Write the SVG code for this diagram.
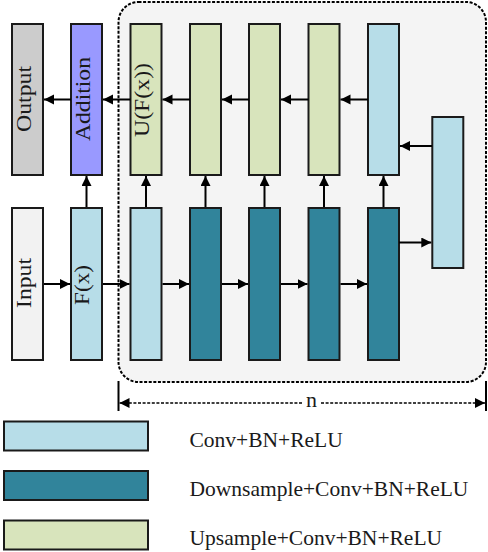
<svg xmlns="http://www.w3.org/2000/svg" width="488" height="552" viewBox="0 0 488 552">
<defs>
<style>
.box{stroke:#1a1a1a;stroke-width:2}
.lb{fill:#b7dde8}.dk{fill:#31849b}.gr{fill:#d8e4bc}
.lbl{font-size:22px;fill:#1a1a1a}
.leg{font-size:21.5px;fill:#1a1a1a}
.c{stroke:#000;stroke-width:2;fill:none}
.d{stroke:#000;stroke-width:1.6;fill:none;stroke-dasharray:3 1.6}
</style>
<marker id="ah" markerUnits="userSpaceOnUse" markerWidth="11" markerHeight="11" refX="10" refY="5" orient="auto">
<path d="M0,0 L10,5 L0,10 z" fill="#000"/>
</marker>
</defs>
<rect width="488" height="552" fill="#fff"/>
<g id="module">
<rect x="118.5" y="2" width="367.5" height="380" rx="20" ry="20" fill="#f4f4f4" stroke="#000" stroke-width="2" stroke-dasharray="3 1.6"/>
</g>
<g font-family="Liberation Serif, DejaVu Serif, serif">
<g id="output"><rect class="box" x="12" y="24" width="31" height="151" fill="#cccccc"/>
<text class="lbl" transform="translate(31,99) rotate(-90)" text-anchor="middle" textLength="66" lengthAdjust="spacingAndGlyphs">Output</text></g>
<g id="addition"><rect class="box" x="71" y="24" width="31" height="151" fill="#9999ff"/>
<text class="lbl" transform="translate(90,99) rotate(-90)" text-anchor="middle" textLength="84" lengthAdjust="spacingAndGlyphs">Addition</text></g>
<g id="up1"><rect class="box gr" x="130.5" y="24" width="31" height="151"/>
<text class="lbl" transform="translate(149,100) rotate(-90)" text-anchor="middle" textLength="74" lengthAdjust="spacingAndGlyphs">U(F(x))</text></g>
<g id="up2"><rect class="box gr" x="190" y="24" width="31" height="151"/></g>
<g id="up3"><rect class="box gr" x="249" y="24" width="31" height="151"/></g>
<g id="up4"><rect class="box gr" x="308.5" y="24" width="31" height="151"/></g>
<g id="conv_top"><rect class="box lb" x="368" y="24" width="31" height="151"/></g>
<g id="bottleneck"><rect class="box lb" x="432.3" y="117" width="31" height="151"/></g>
<g id="input"><rect class="box" x="12" y="208" width="31" height="152" fill="#f2f2f2"/>
<text class="lbl" transform="translate(31,283) rotate(-90)" text-anchor="middle" textLength="50" lengthAdjust="spacingAndGlyphs">Input</text></g>
<g id="fx"><rect class="box lb" x="71" y="208" width="31" height="152"/>
<text class="lbl" transform="translate(89,285) rotate(-90)" text-anchor="middle" textLength="40" lengthAdjust="spacingAndGlyphs">F(x)</text></g>
<g id="conv_in"><rect class="box lb" x="130.5" y="208" width="31" height="152"/></g>
<g id="down1"><rect class="box dk" x="190" y="208" width="31" height="152"/></g>
<g id="down2"><rect class="box dk" x="249" y="208" width="31" height="152"/></g>
<g id="down3"><rect class="box dk" x="308.5" y="208" width="31" height="152"/></g>
<g id="down4"><rect class="box dk" x="368" y="208" width="31" height="152"/></g>
<g id="connectors">
<line class="c" x1="71" y1="99.5" x2="44" y2="99.5" marker-end="url(#ah)"/>
<line class="c" x1="130.5" y1="99.5" x2="103" y2="99.5" marker-end="url(#ah)"/>
<line class="c" x1="190" y1="99.5" x2="162.5" y2="99.5" marker-end="url(#ah)"/>
<line class="c" x1="249" y1="99.5" x2="222" y2="99.5" marker-end="url(#ah)"/>
<line class="c" x1="308.5" y1="99.5" x2="281" y2="99.5" marker-end="url(#ah)"/>
<line class="c" x1="368" y1="99.5" x2="340.5" y2="99.5" marker-end="url(#ah)"/>
<line class="c" x1="432" y1="146" x2="400" y2="146" marker-end="url(#ah)"/>
<line class="c" x1="399" y1="242.5" x2="431.3" y2="242.5" marker-end="url(#ah)"/>
<line class="c" x1="44" y1="284" x2="70" y2="284" marker-end="url(#ah)"/>
<line class="c" x1="103" y1="284" x2="129.5" y2="284" marker-end="url(#ah)"/>
<line class="c" x1="162.5" y1="284" x2="189" y2="284" marker-end="url(#ah)"/>
<line class="c" x1="222" y1="284" x2="248" y2="284" marker-end="url(#ah)"/>
<line class="c" x1="281" y1="284" x2="307.5" y2="284" marker-end="url(#ah)"/>
<line class="c" x1="340.5" y1="284" x2="367" y2="284" marker-end="url(#ah)"/>
<line class="c" x1="86.5" y1="207" x2="86.5" y2="176" marker-end="url(#ah)"/>
<line class="c" x1="146" y1="207" x2="146" y2="176" marker-end="url(#ah)"/>
<line class="c" x1="205.5" y1="207" x2="205.5" y2="176" marker-end="url(#ah)"/>
<line class="c" x1="264.5" y1="207" x2="264.5" y2="176" marker-end="url(#ah)"/>
<line class="c" x1="324" y1="207" x2="324" y2="176" marker-end="url(#ah)"/>
<line class="c" x1="383.5" y1="207" x2="383.5" y2="176" marker-end="url(#ah)"/>
</g>
<g id="dimension">
<line x1="118.5" y1="381" x2="118.5" y2="411" stroke="#000" stroke-width="2"/>
<line x1="486" y1="381" x2="486" y2="411" stroke="#000" stroke-width="2"/>
<line class="d" x1="302" y1="403" x2="119.5" y2="403" marker-end="url(#ah)"/>
<line class="d" x1="321" y1="403" x2="485" y2="403" marker-end="url(#ah)"/>
<text class="lbl" x="311.5" y="407" text-anchor="middle">n</text>
</g>
<g id="legend">
<rect class="box lb" x="4" y="421.5" width="144" height="29"/>
<rect class="box dk" x="4" y="471" width="144" height="29"/>
<rect class="box gr" x="4" y="520.5" width="144" height="29"/>
<text class="leg" x="189.5" y="446.5">Conv+BN+ReLU</text>
<text class="leg" x="189.5" y="495.5">Downsample+Conv+BN+ReLU</text>
<text class="leg" x="189.5" y="544.5">Upsample+Conv+BN+ReLU</text>
</g>
</g>
</svg>
